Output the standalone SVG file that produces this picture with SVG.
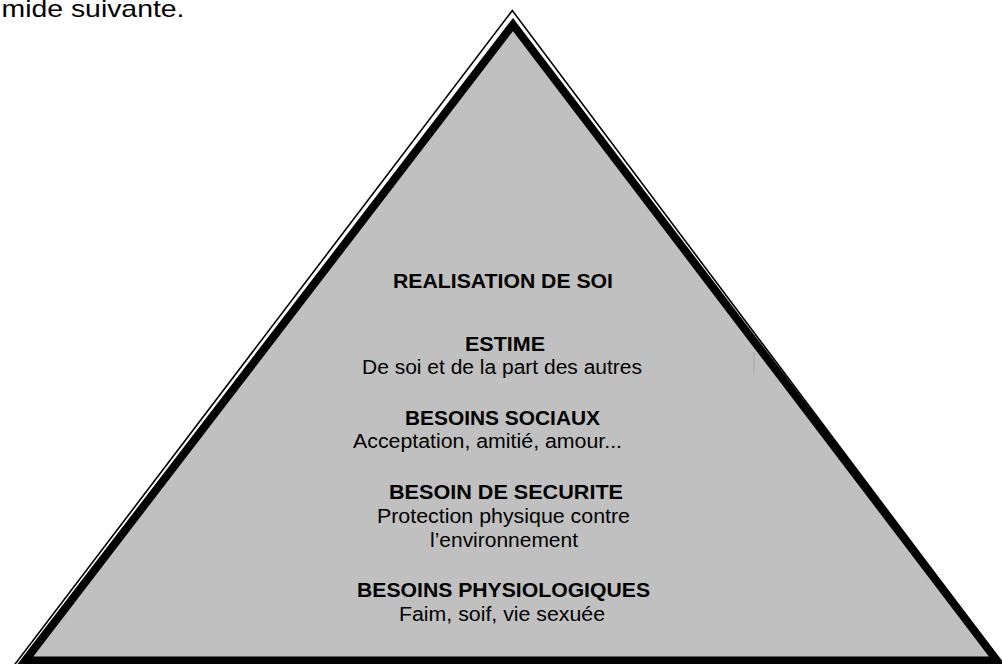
<svg xmlns="http://www.w3.org/2000/svg" width="1002" height="664" viewBox="0 0 1002 664">
<style>
text{font-family:"Liberation Sans",Arial,sans-serif;font-size:20px;fill:#000}
.b{font-weight:bold}
</style>
<rect x="0" y="0" width="1002" height="664" fill="#fff"/>
<text x="1.5" y="16.7" style="font-size:24px" textLength="183" lengthAdjust="spacingAndGlyphs">mide suivante.</text>
<g id="pyramid">
<polygon points="14,665.5 512.3,10.5 1004,665.5" fill="#fff" stroke="#000" stroke-width="1.6" stroke-linejoin="miter"/>
<polygon points="25.2,660.5 513,24.5 997,660.5" fill="#c0c0c0" stroke="#000" stroke-width="8" stroke-linejoin="miter" stroke-miterlimit="10"/>
<line x1="754" y1="352" x2="754" y2="373" stroke="#a0a0a0" stroke-width="1"/>
</g>
<g id="level-realisation">
<text class="b" x="393" y="288" textLength="220" lengthAdjust="spacingAndGlyphs">REALISATION DE SOI</text>
</g>
<g id="level-estime">
<text class="b" x="465" y="350.5" textLength="80" lengthAdjust="spacingAndGlyphs">ESTIME</text>
<text x="362" y="374" textLength="280" lengthAdjust="spacingAndGlyphs">De soi et de la part des autres</text>
</g>
<g id="level-sociaux">
<text class="b" x="405" y="425" textLength="195" lengthAdjust="spacingAndGlyphs">BESOINS SOCIAUX</text>
<text x="353" y="448" textLength="269" lengthAdjust="spacingAndGlyphs">Acceptation, amitié, amour...</text>
</g>
<g id="level-securite">
<text class="b" x="389" y="499" textLength="234" lengthAdjust="spacingAndGlyphs">BESOIN DE SECURITE</text>
<text x="377" y="522.5" textLength="253" lengthAdjust="spacingAndGlyphs">Protection physique contre</text>
<text x="430" y="546.5" textLength="148" lengthAdjust="spacingAndGlyphs">l’environnement</text>
</g>
<g id="level-physiologiques">
<text class="b" x="357" y="597" textLength="293" lengthAdjust="spacingAndGlyphs">BESOINS PHYSIOLOGIQUES</text>
<text x="399" y="621" textLength="206" lengthAdjust="spacingAndGlyphs">Faim, soif, vie sexuée</text>
</g>
</svg>
